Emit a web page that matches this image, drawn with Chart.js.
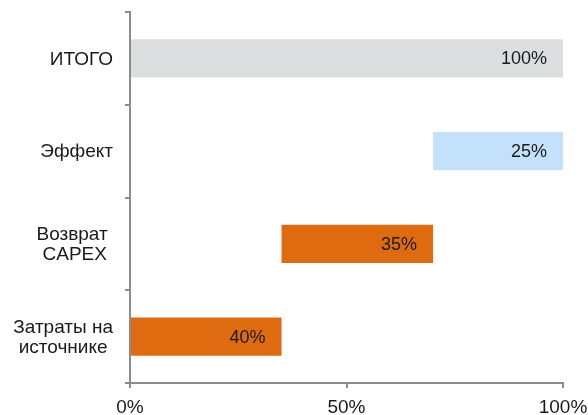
<!DOCTYPE html>
<html>
<head>
<meta charset="utf-8">
<script src="https://cdn.jsdelivr.net/npm/chart.js@4"></script>
<style>
  html, body { margin: 0; padding: 0; background: #fff; }
  #wrap { width: 588px; height: 415px; position: relative; }
</style>
</head>
<body>
<div id="wrap"><canvas id="waterfall"></canvas></div>
<script>
// categories, top to bottom
var categories = ["ИТОГО", "Эффект", ["Возврат ", "CAPEX"], ["Затраты на", "источнике"]];
// bar start / end (percent of axis)
var barStart = [0, 70, 35, 0];
var barEnd = [100, 100, 70, 35];
// value labels printed on the bars
var valueLabels = ["100%", "25%", "35%", "40%"];
var barColors = ["#dcdddf", "#c4e1fb", "#df6b10", "#df6b10"];
var xTicks = [0, 50, 100];

var fontFamily = "'Liberation Sans', Arial, sans-serif";
var axisGray = "#8c8c8c";
var textColor = "#1a1a1a";

var ranges = barStart.map(function (s, i) { return [s, barEnd[i]]; });

// draws the value text inside each bar near its right end
var barLabels = {
  id: 'barLabels',
  afterDatasetsDraw: function (chart) {
    var ctx = chart.ctx;
    var meta = chart.getDatasetMeta(0);
    ctx.save();
    ctx.font = "18px " + fontFamily;
    ctx.fillStyle = textColor;
    ctx.textAlign = "right";
    ctx.textBaseline = "middle";
    meta.data.forEach(function (bar, i) {
      ctx.fillText(valueLabels[i], bar.x - 16, bar.y + 1);
    });
    ctx.restore();
  }
};

// category labels: block right-aligned to the axis, lines centred in the block
var categoryLabels = {
  id: 'categoryLabels',
  afterDraw: function (chart) {
    var ctx = chart.ctx;
    var scale = chart.scales.y;
    var lineH = 20.5;
    ctx.save();
    ctx.font = "19px " + fontFamily;
    ctx.fillStyle = textColor;
    ctx.textAlign = "center";
    ctx.textBaseline = "middle";
    scale.ticks.forEach(function (t, i) {
      var lines = Array.isArray(categories[i]) ? categories[i] : [categories[i]];
      var w = Math.max.apply(null, lines.map(function (l) { return ctx.measureText(l).width; }));
      var cx = scale.right - 5 - 12 - w / 2;
      var y = scale.getPixelForTick(i);
      lines.forEach(function (l, j) {
        ctx.fillText(l, cx, y + 1 + (j - (lines.length - 1) / 2) * lineH);
      });
    });
    ctx.restore();
  }
};

var chart = new Chart(document.getElementById("waterfall"), {
  type: 'bar',
  data: {
    labels: categories,
    datasets: [{
      data: ranges,
      backgroundColor: barColors,
      borderWidth: 0,
      categoryPercentage: 1,
      barPercentage: 0.41
    }]
  },
  options: {
    indexAxis: 'y',
    responsive: true,
    maintainAspectRatio: false,
    animation: false,
    layout: { padding: { top: 12, right: 25, left: 0, bottom: 0 } },
    plugins: {
      legend: { display: false },
      tooltip: { enabled: false }
    },
    scales: {
      x: {
        min: 0,
        max: 100,
        afterBuildTicks: function (axis) {
          axis.ticks = xTicks.map(function (v) { return { value: v }; });
        },
        afterFit: function (axis) {
          axis.height = 32;
          axis.paddingLeft = 0;
          axis.paddingRight = 0;
        },
        grid: {
          drawOnChartArea: false,
          drawTicks: true,
          tickLength: 5,
          color: axisGray,
          lineWidth: 2
        },
        border: { color: axisGray, width: 2 },
        ticks: {
          padding: 8,
          maxRotation: 0,
          color: textColor,
          font: { family: fontFamily, size: 19 },
          callback: function (v) { return v + "%"; }
        }
      },
      y: {
        offset: true,
        afterFit: function (axis) {
          axis.width = 130;
          axis.paddingTop = 0;
          axis.paddingBottom = 0;
        },
        grid: {
          offset: true,
          drawOnChartArea: false,
          drawTicks: true,
          tickLength: 5,
          color: axisGray,
          lineWidth: 2
        },
        border: { color: axisGray, width: 2 },
        ticks: {
          display: false
        }
      }
    }
  },
  plugins: [barLabels, categoryLabels]
});
</script>
</body>
</html>
